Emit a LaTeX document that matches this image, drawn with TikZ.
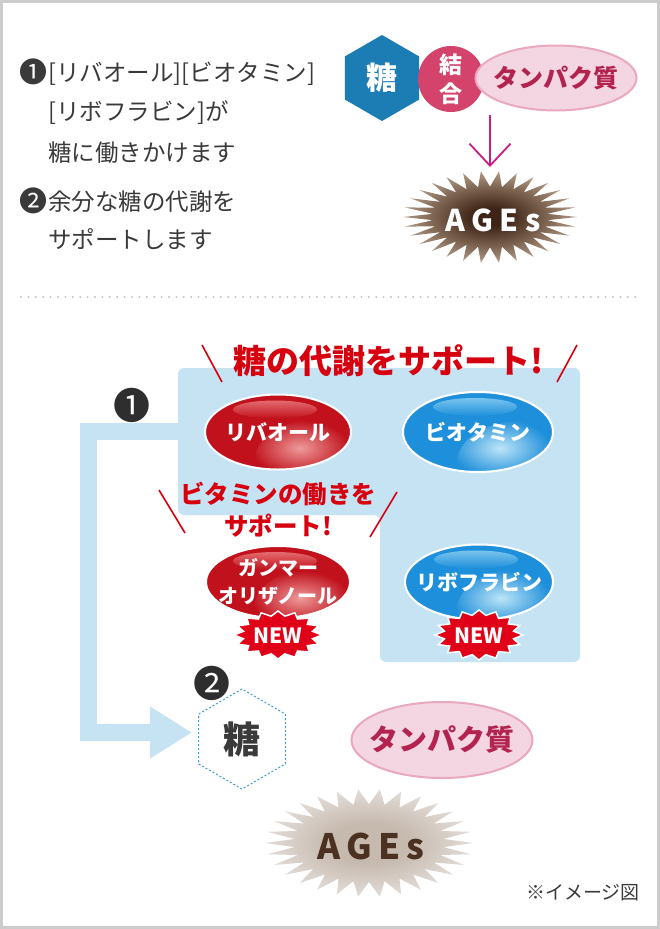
\documentclass[tikz,border=0pt]{standalone}
\usepackage{fontspec}
\setmainfont{Noto Sans CJK JP}
\usetikzlibrary{shapes.geometric,arrows.meta,calc}
\newcommand{\fs}[1]{\fontsize{#1}{#1}\selectfont}
\definecolor{framegray}{HTML}{CCCCCC}
\definecolor{txt}{HTML}{3A3A3A}
\definecolor{sugarblue}{HTML}{1B7DB4}
\definecolor{bindpink}{HTML}{D3436C}
\definecolor{protfill}{HTML}{F4D5E2}
\definecolor{protline}{HTML}{E9A8C0}
\definecolor{prottext}{HTML}{B3234F}
\definecolor{arrowmag}{HTML}{C81D82}
\definecolor{panelblue}{HTML}{C6E3F3}
\definecolor{titlered}{HTML}{D7000F}
\definecolor{pillred}{HTML}{C0111C}
\definecolor{pillredlight}{HTML}{EE9A9A}
\definecolor{pillredhl}{HTML}{E46A6E}
\definecolor{pillblue}{HTML}{1E8FDA}
\definecolor{pillbluelight}{HTML}{BDE5F8}
\definecolor{pillbluehl}{HTML}{78C4EE}
\definecolor{newred}{HTML}{E00018}
\definecolor{hexdot}{HTML}{3A9FD0}
\definecolor{agesdark}{HTML}{3E2416}
\definecolor{agesmid}{HTML}{765C4A}
\definecolor{ageslight}{HTML}{B09A86}
\definecolor{agespaledark}{HTML}{C6B9AE}
\definecolor{agespalelight}{HTML}{E2DCD7}
\definecolor{agestext}{HTML}{4A3122}
\definecolor{dotgray}{HTML}{C4C4C4}
\definecolor{badge}{HTML}{2E2E2E}
\pgfdeclareradialshading{agesTopShade}{\pgfpoint{0bp}{0bp}}{color(0bp)=(agesdark); color(5bp)=(agesdark); color(15bp)=(agesmid); color(25bp)=(ageslight); color(50bp)=(ageslight)}
\pgfdeclareradialshading{agesBotShade}{\pgfpoint{0bp}{0bp}}{color(0bp)=(agespaledark); color(9bp)=(agespaledark); color(25bp)=(agespalelight); color(50bp)=(agespalelight)}
\pgfdeclareradialshading{spotRed}{\pgfpoint{0bp}{0bp}}{color(0bp)=(pillredlight); color(13bp)=(pillred); color(50bp)=(pillred)}
\pgfdeclareradialshading{spotBlue}{\pgfpoint{0bp}{0bp}}{color(0bp)=(pillbluelight); color(13bp)=(pillblue); color(50bp)=(pillblue)}
% #1 options, #2 cx, #3 cy, #4 rx, #5 ry, #6 inner factor, #7 spikes, #8 2*spikes-1
\newcommand{\starburst}[8]{\path[#1] ({#2+#4},{#3}) \foreach \k in {1,...,#8}{ -- ({#2+#4*(1-(1-#6)*mod(\k,2))*cos(\k*180/#7)},{#3+#5*(1-(1-#6)*mod(\k,2))*sin(\k*180/#7)}) } -- cycle;}
\newcommand{\circnum}[1]{\makebox[28.5pt][l]{\raisebox{-1.8pt}{\fs{28}#1}}}
\tikzset{
  body/.style={text=txt, font=\fs{23.5}, anchor=base west, inner sep=0pt},
  pill/.style={ellipse, draw=white, line width=2pt, text=white, font=\fs{21}\bfseries,
    align=center, inner xsep=-16pt, inner ysep=0pt, minimum width=146pt, minimum height=75pt},
  redpill/.style={pill, fill=pillred, path picture={
      \shade[shading=spotRed] ($(path picture bounding box.south east)+(-26pt,10pt)$) ellipse (70pt and 42pt);
      \shade[top color=pillredhl, bottom color=pillred] ($(path picture bounding box.north)+(-3pt,-15pt)$) ellipse (42pt and 9pt);}},
  bluepill/.style={pill, fill=pillblue, path picture={
      \shade[shading=spotBlue] ($(path picture bounding box.south east)+(-26pt,10pt)$) ellipse (70pt and 42pt);
      \shade[top color=pillbluehl, bottom color=pillblue] ($(path picture bounding box.north)+(-3pt,-15pt)$) ellipse (42pt and 9pt);}},
  redtext/.style={text=titlered, font=\fs{24.5}\bfseries, inner sep=0pt},
  slash/.style={titlered, line width=1.6pt},
  newtext/.style={text=white, font=\fs{21}\bfseries, inner sep=0pt},
  numbadge/.style={text=badge, font=\fs{37}, inner sep=0pt},
  protein/.style={ellipse, fill=protfill, draw=protline, line width=2pt, text=prottext, font=\fs{25}\bfseries, inner xsep=-16pt, inner ysep=0pt},
}
\begin{document}
\begin{tikzpicture}[x=1pt,y=-1pt]
\fill[white] (0,0) rectangle (660,929);
\useasboundingbox (0,0) rectangle (660,929);
\draw[framegray, line width=3pt] (1.5,1.5) rectangle (658.5,927.5);

% ---------- top-left text ----------
\node[body] (l1) at (19.5,81) {\circnum{❶}[リバオール][ビオタミン]};
\node[body] (l2) at (48,120) {[リボフラビン]が};
\node[body] (l3) at (48,161) {糖に働きかけます};
\node[body] (l4) at (19.5,210) {\circnum{❷}余分な糖の代謝を};
\node[body] (l5) at (48,248) {サポートします};

% ---------- top-right ----------
\node[regular polygon, regular polygon sides=6, shape border rotate=30, minimum size=86pt, inner sep=0pt,
      fill=sugarblue, text=white, font=\fs{31}\bfseries] (sugar1) at (382,78) {糖};
\node[circle, minimum size=66pt, inner sep=0pt, fill=bindpink, text=white, align=center,
      font=\fontsize{23}{29}\selectfont\bfseries] (bind) at (451,79) {結\\合};
\node[protein, minimum width=161pt, minimum height=65pt] (prot1) at (556,78) {タンパク質};
\starburst{shade, shading=agesTopShade}{490}{217}{87}{46}{0.66}{30}{59}
\node[text=white, font=\fs{30}\bfseries\addfontfeature{LetterSpace=22}, inner sep=0pt] (agesTop) at (493,220) {AGEs};
\coordinate (arrS) at (490,115);
\coordinate (ageT) at (490,167);
\draw[arrowmag, line width=1.8pt, -{Straight Barb[length=22pt,width=41pt]}] (arrS) -- (ageT);

% ---------- separator ----------
\draw[dotgray, line width=2.2pt, line cap=round, dash pattern=on 0pt off 7.4pt] (21,297) -- (640,297);

% ---------- panel ----------
\fill[panelblue, rounded corners=6pt] (178,368) -- (580,368) -- (580,662) -- (380,662) -- (380,515) -- (178,515) -- cycle;

% L arrow
\coordinate (panelL) at (182,431.5);
\coordinate (tip2) at (192,732.5);
\draw[panelblue, line width=17pt, -{Triangle[length=42pt,width=49pt]}] (panelL) -- (88,431.5) -- (88,732.5) -- (tip2);

\node[numbadge] (num1) at (132,405) {❶};
\node[numbadge] (num2) at (212,683) {❷};

% title
\node[text=titlered, font=\fs{33}\bfseries, inner sep=0pt] (title) at (389,361) {糖の代謝をサポート!};
\draw[slash] (202,345) -- (222,382);
\draw[slash] (577,345) -- (557,382);

\node[redpill] (ribaol) at (278,432) {リバオール};
\node[bluepill, minimum width=150pt, minimum height=80pt] (biotamin) at (478,432) {ビオタミン};

\node[redtext] (sub1) at (278,494) {ビタミンの働きを};
\node[redtext] (sub2) at (278,526) {サポート!};
\draw[slash] (159,490) -- (185,533);
\draw[slash] (397,492) -- (370,537);

\node[redpill, minimum width=144pt, minimum height=72pt, inner ysep=-4pt, font=\fontsize{20}{28}\selectfont\bfseries] (gamma) at (278,582) {ガンマー\\オリザノール};
\node[bluepill, minimum width=148pt, minimum height=75pt] (ribo) at (479,582) {リボフラビン};

\starburst{fill=newred, draw=white, line width=1.5pt}{278}{635}{44}{24}{0.8}{16}{31}
\node[newtext] (new1) at (278,636) {NEW};
\starburst{fill=newred, draw=white, line width=1.5pt}{479}{635}{44}{25}{0.8}{16}{31}
\node[newtext] (new2) at (479,636) {NEW};

% ---------- bottom ----------
\node[regular polygon, regular polygon sides=6, shape border rotate=30, minimum size=100pt, inner sep=0pt,
      fill=white, draw=hexdot, line width=1pt, dash pattern=on 2pt off 2pt, text=txt, font=\fs{37}\bfseries] (sugar2) at (242,739) {糖};
\node[protein, minimum width=181pt, minimum height=76pt, font=\fs{29}\bfseries] (prot2) at (442,740) {タンパク質};
\starburst{shade, shading=agesBotShade}{369}{843}{104}{54}{0.72}{30}{59}
\node[text=agestext, font=\fs{35}\bfseries\addfontfeature{LetterSpace=18}, inner sep=0pt] (agesBot) at (371,846) {AGEs};

\node[text=txt, font=\fs{19}, inner sep=0pt] (note) at (583,893) {※イメージ図};
\end{tikzpicture}
\end{document}
